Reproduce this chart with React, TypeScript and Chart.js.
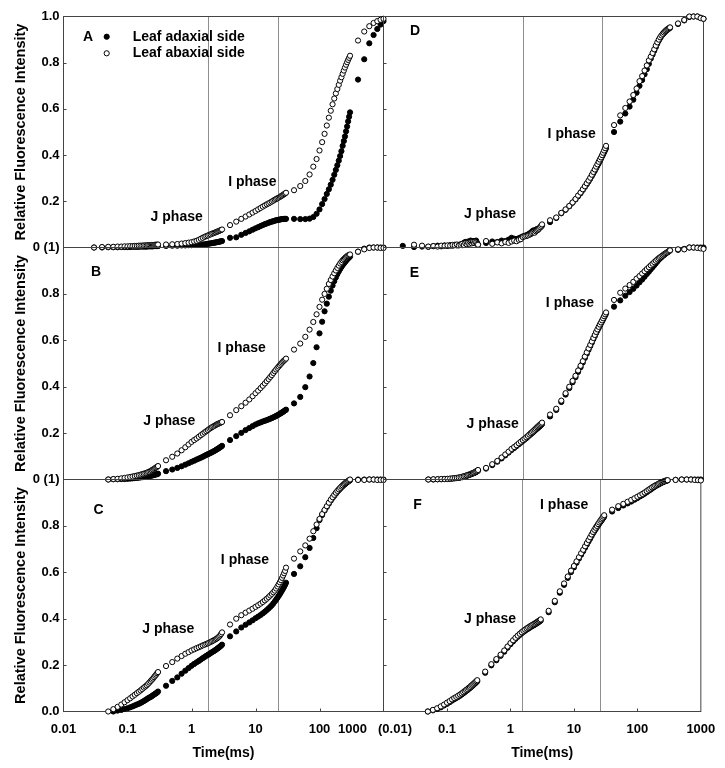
import { useEffect, useRef } from 'react';
import { Chart, registerables } from 'chart.js';

Chart.register(...registerables);

// ---------------- DATA ----------------
// sampling times (ms)
const TIME_MS = [
  0.02, 0.03, 0.04, 0.05, 0.06, 0.07, 0.08, 0.09,
  0.1, 0.11, 0.12, 0.13, 0.14, 0.15, 0.16, 0.17, 0.18, 0.19,
  0.2, 0.21, 0.22, 0.23, 0.24, 0.25, 0.26, 0.27, 0.28, 0.29, 0.3,
  0.4, 0.5, 0.6, 0.7, 0.8, 0.9,
  1.0, 1.1, 1.2, 1.3, 1.4, 1.5, 1.6, 1.7, 1.8, 1.9,
  2.0, 2.1, 2.2, 2.3, 2.4, 2.5, 2.6, 2.7, 2.8, 2.9, 3.0,
  4, 5, 6, 7, 8, 9,
  10, 11, 12, 13, 14, 15, 16, 17, 18, 19,
  20, 21, 22, 23, 24, 25, 26, 27, 28, 29, 30,
  40, 50, 60, 70, 80, 90,
  100, 110, 120, 130, 140, 150, 160, 170, 180, 190,
  200, 210, 220, 230, 240, 250, 260, 270, 280, 290, 300,
  400, 500, 600, 700, 800, 900, 1000,
];

const A_START = 0.03;
const A_ABAXIAL = [
  0.000, 0.002, 0.003, 0.003, 0.004, 0.004, 0.005,
  0.005, 0.006, 0.006, 0.007, 0.007, 0.008, 0.008, 0.008, 0.009, 0.009,
  0.009, 0.010, 0.010, 0.010, 0.011, 0.011, 0.011, 0.012, 0.012, 0.012, 0.013,
  0.013, 0.014, 0.015, 0.017, 0.019, 0.021,
  0.023, 0.026, 0.029, 0.033, 0.038, 0.042, 0.046, 0.049, 0.052, 0.055,
  0.057, 0.060, 0.062, 0.064, 0.066, 0.068, 0.070, 0.072, 0.074, 0.076, 0.078,
  0.097, 0.112, 0.124, 0.134, 0.143, 0.151,
  0.158, 0.165, 0.171, 0.177, 0.182, 0.187, 0.191, 0.195, 0.199, 0.203,
  0.207, 0.210, 0.213, 0.216, 0.219, 0.222, 0.225, 0.228, 0.231, 0.234, 0.237,
  0.248, 0.266, 0.288, 0.316, 0.350, 0.383,
  0.420, 0.456, 0.492, 0.528, 0.562, 0.592, 0.620, 0.645, 0.667, 0.686,
  0.704, 0.722, 0.737, 0.752, 0.766, 0.779, 0.791, 0.802, 0.812, 0.821, 0.830,
  0.896, 0.935, 0.958, 0.972, 0.980, 0.986, 0.990,
];
const A_ADAXIAL = [
  0.000, 0.000, 0.001, 0.001, 0.001, 0.002, 0.002,
  0.002, 0.002, 0.003, 0.003, 0.003, 0.003, 0.004, 0.004, 0.004, 0.004,
  0.004, 0.005, 0.005, 0.005, 0.005, 0.005, 0.006, 0.006, 0.006, 0.006, 0.006,
  0.007, 0.008, 0.008, 0.009, 0.009, 0.010,
  0.010, 0.011, 0.011, 0.012, 0.013, 0.013, 0.014, 0.015, 0.016, 0.017,
  0.018, 0.019, 0.020, 0.021, 0.022, 0.023, 0.024, 0.025, 0.026, 0.027, 0.028,
  0.042, 0.044, 0.055, 0.063, 0.070, 0.077,
  0.083, 0.088, 0.093, 0.097, 0.101, 0.104, 0.107, 0.110, 0.112, 0.114,
  0.116, 0.118, 0.119, 0.120, 0.121, 0.122, 0.123, 0.123, 0.124, 0.124, 0.124,
  0.124, 0.123, 0.123, 0.125, 0.132, 0.146,
  0.165, 0.188, 0.210, 0.232, 0.252, 0.272, 0.293, 0.315, 0.336, 0.356,
  0.376, 0.396, 0.417, 0.440, 0.461, 0.481, 0.503, 0.524, 0.546, 0.566, 0.585,
  0.727, 0.815, 0.884, 0.920, 0.946, 0.965, 0.980,
];

const B_START = 0.05;
const B_ABAXIAL = [
  0.000, 0.002, 0.003, 0.005, 0.007,
  0.009, 0.011, 0.013, 0.015, 0.017, 0.019, 0.021, 0.023, 0.025, 0.027,
  0.029, 0.032, 0.034, 0.037, 0.040, 0.043, 0.046, 0.049, 0.052, 0.055, 0.058,
  0.083, 0.098, 0.112, 0.126, 0.139, 0.151,
  0.162, 0.170, 0.177, 0.184, 0.191, 0.197, 0.203, 0.208, 0.213, 0.218,
  0.222, 0.226, 0.229, 0.232, 0.235, 0.238, 0.240, 0.242, 0.244, 0.246, 0.248,
  0.277, 0.299, 0.316, 0.331, 0.345, 0.359,
  0.372, 0.383, 0.394, 0.404, 0.414, 0.424, 0.433, 0.442, 0.450, 0.459,
  0.467, 0.474, 0.481, 0.487, 0.493, 0.499, 0.504, 0.509, 0.513, 0.517, 0.521,
  0.560, 0.586, 0.615, 0.646, 0.679, 0.712,
  0.744, 0.775, 0.800, 0.822, 0.843, 0.860, 0.875, 0.889, 0.901, 0.912,
  0.922, 0.931, 0.938, 0.945, 0.950, 0.955, 0.959, 0.963, 0.966, 0.968, 0.970,
  0.982, 0.992, 0.998, 1.000, 1.000, 0.998, 0.998,
];
const B_ADAXIAL = [
  0.000, 0.001, 0.001, 0.002, 0.002,
  0.003, 0.004, 0.005, 0.006, 0.007, 0.008, 0.009, 0.010, 0.011, 0.012,
  0.013, 0.014, 0.015, 0.016, 0.017, 0.018, 0.020, 0.021, 0.022, 0.023, 0.025,
  0.036, 0.043, 0.050, 0.057, 0.064, 0.070,
  0.076, 0.081, 0.086, 0.090, 0.094, 0.098, 0.102, 0.106, 0.109, 0.112,
  0.115, 0.118, 0.121, 0.124, 0.127, 0.130, 0.133, 0.136, 0.139, 0.142, 0.145,
  0.170, 0.187, 0.201, 0.213, 0.222, 0.230,
  0.237, 0.242, 0.246, 0.250, 0.253, 0.256, 0.259, 0.262, 0.265, 0.268,
  0.271, 0.274, 0.277, 0.280, 0.283, 0.286, 0.289, 0.292, 0.295, 0.298, 0.301,
  0.328, 0.356, 0.398, 0.444, 0.502, 0.570,
  0.630, 0.680, 0.725, 0.758, 0.788, 0.814, 0.836, 0.855, 0.871, 0.885,
  0.897, 0.907, 0.916, 0.924, 0.931, 0.937, 0.943, 0.948, 0.953, 0.957, 0.961,
  0.982, 0.995, 1.000, 1.000, 1.000, 1.000, 1.000,
];

const C_AB_START = 0.05;
const C_ABAXIAL = [
  0.000, 0.010, 0.020, 0.030, 0.040,
  0.049, 0.057, 0.065, 0.072, 0.079, 0.085, 0.091, 0.097, 0.103, 0.108,
  0.113, 0.119, 0.125, 0.131, 0.137, 0.142, 0.148, 0.154, 0.159, 0.165, 0.170,
  0.196, 0.213, 0.228, 0.239, 0.249, 0.256,
  0.263, 0.268, 0.273, 0.277, 0.281, 0.285, 0.288, 0.291, 0.294, 0.297,
  0.300, 0.303, 0.306, 0.309, 0.312, 0.315, 0.319, 0.323, 0.328, 0.334, 0.341,
  0.375, 0.400, 0.415, 0.426, 0.435, 0.443,
  0.451, 0.458, 0.465, 0.472, 0.479, 0.486, 0.493, 0.500, 0.507, 0.514,
  0.521, 0.530, 0.539, 0.548, 0.557, 0.566, 0.576, 0.586, 0.596, 0.606, 0.620,
  0.659, 0.690, 0.716, 0.745, 0.777, 0.806,
  0.830, 0.851, 0.869, 0.885, 0.900, 0.913, 0.924, 0.934, 0.943, 0.951,
  0.958, 0.964, 0.970, 0.975, 0.980, 0.984, 0.988, 0.991, 0.994, 0.997, 1.000,
  0.998, 0.998, 1.000, 1.000, 0.998, 0.998, 0.998,
];
const C_AD_START = 0.06;
const C_ADAXIAL = [
  0.000, 0.004, 0.007, 0.011,
  0.014, 0.018, 0.022, 0.026, 0.030, 0.033, 0.037, 0.041, 0.045, 0.049,
  0.053, 0.057, 0.060, 0.063, 0.066, 0.070, 0.073, 0.076, 0.079, 0.082, 0.086,
  0.111, 0.132, 0.147, 0.163, 0.176, 0.187,
  0.197, 0.205, 0.212, 0.218, 0.224, 0.230, 0.235, 0.240, 0.244, 0.248,
  0.252, 0.256, 0.259, 0.263, 0.266, 0.270, 0.273, 0.277, 0.280, 0.284, 0.288,
  0.324, 0.345, 0.362, 0.374, 0.384, 0.393,
  0.402, 0.409, 0.416, 0.423, 0.430, 0.437, 0.444, 0.451, 0.458, 0.466,
  0.474, 0.482, 0.490, 0.498, 0.506, 0.514, 0.522, 0.530, 0.538, 0.546, 0.555,
  0.593, 0.626, 0.665, 0.705, 0.748, 0.790,
  0.825, 0.847, 0.866, 0.882, 0.896, 0.909, 0.920, 0.930, 0.939, 0.947,
  0.954, 0.960, 0.966, 0.971, 0.976, 0.980, 0.984, 0.988, 0.991, 0.994, 0.997,
  1.000, 1.000, 1.000, 1.000, 1.000, 1.000, 1.000,
];

const D_AB_START = 0.03;
const D_ABAXIAL = [
  0.012, 0.008, 0.004, 0.006, 0.004, 0.008, 0.007,
  0.009, 0.008, 0.011, 0.010, 0.013, 0.009, 0.012, 0.016, 0.011, 0.018,
  0.014, 0.020, 0.016, 0.022, 0.018, 0.024, 0.019, 0.025, 0.021, 0.015, 0.012,
  0.028, 0.016, 0.022, 0.018, 0.024, 0.020,
  0.026, 0.030, 0.027, 0.033, 0.036, 0.045, 0.048, 0.050, 0.052, 0.055,
  0.058, 0.062, 0.066, 0.064, 0.070, 0.074, 0.078, 0.082, 0.088, 0.094, 0.100,
  0.118, 0.130, 0.150, 0.165, 0.180, 0.195,
  0.210, 0.225, 0.238, 0.252, 0.265, 0.278, 0.290, 0.302, 0.315, 0.327,
  0.338, 0.350, 0.360, 0.371, 0.381, 0.390, 0.400, 0.410, 0.420, 0.430, 0.440,
  0.530, 0.572, 0.604, 0.632, 0.660, 0.688,
  0.720, 0.742, 0.766, 0.788, 0.810, 0.826, 0.842, 0.858, 0.874, 0.888,
  0.900, 0.910, 0.918, 0.925, 0.931, 0.936, 0.940, 0.944, 0.947, 0.950, 0.953,
  0.970, 0.985, 1.000, 1.000, 1.000, 0.993, 0.990,
];
const D_AD_START = 0.02;
const D_ADAXIAL = [
  0.007, 0.002, 0.004, 0.003, 0.006, 0.008, 0.005, 0.009,
  0.007, 0.010, 0.008, 0.012, 0.009, 0.011, 0.014, 0.010, 0.020, 0.024,
  0.018, 0.026, 0.022, 0.030, 0.027, 0.023, 0.028, 0.025, 0.030, 0.020, 0.012,
  0.020, 0.026, 0.024, 0.030, 0.028, 0.034,
  0.042, 0.038, 0.036, 0.040, 0.044, 0.048, 0.050, 0.053, 0.056, 0.060,
  0.064, 0.070, 0.074, 0.072, 0.076, 0.080, 0.077, 0.083, 0.087, 0.090, 0.095,
  0.110, 0.128, 0.148, 0.163, 0.178, 0.194,
  0.208, 0.222, 0.235, 0.249, 0.262, 0.274, 0.286, 0.298, 0.310, 0.321,
  0.332, 0.343, 0.354, 0.364, 0.374, 0.384, 0.394, 0.403, 0.412, 0.421, 0.430,
  0.500, 0.545, 0.580, 0.610, 0.640, 0.670,
  0.700, 0.725, 0.750, 0.772, 0.795, 0.818, 0.835, 0.852, 0.868, 0.883,
  0.896, 0.906, 0.915, 0.922, 0.928, 0.933, 0.938, 0.942, 0.945, 0.948, 0.951,
  0.968, 0.983, 0.998, 1.000, 1.000, 0.995, 0.990,
];

const E_START = 0.05;
const E_ABAXIAL = [
  0.000, 0.001, 0.001, 0.002, 0.002,
  0.003, 0.004, 0.005, 0.006, 0.007, 0.009, 0.010, 0.012, 0.014, 0.016,
  0.018, 0.020, 0.022, 0.024, 0.026, 0.028, 0.030, 0.033, 0.035, 0.038, 0.041,
  0.050, 0.066, 0.080, 0.095, 0.108, 0.120,
  0.132, 0.140, 0.148, 0.156, 0.163, 0.170, 0.176, 0.182, 0.188, 0.194,
  0.200, 0.205, 0.210, 0.215, 0.220, 0.225, 0.229, 0.233, 0.237, 0.241, 0.245,
  0.280, 0.305, 0.340, 0.372, 0.400, 0.425,
  0.447, 0.470, 0.490, 0.510, 0.530, 0.548, 0.565, 0.580, 0.595, 0.610,
  0.623, 0.636, 0.647, 0.658, 0.668, 0.677, 0.686, 0.695, 0.704, 0.712, 0.720,
  0.774, 0.805, 0.823, 0.838, 0.852, 0.866,
  0.877, 0.888, 0.898, 0.907, 0.915, 0.923, 0.930, 0.937, 0.943, 0.949,
  0.954, 0.958, 0.962, 0.966, 0.970, 0.973, 0.976, 0.979, 0.982, 0.985, 0.988,
  0.992, 0.992, 1.000, 1.000, 0.998, 0.996, 0.994,
];
const E_ADAXIAL = [
  0.000, 0.000, 0.001, 0.001, 0.002,
  0.002, 0.003, 0.004, 0.005, 0.006, 0.007, 0.009, 0.010, 0.012, 0.014,
  0.016, 0.018, 0.020, 0.022, 0.024, 0.026, 0.028, 0.030, 0.032, 0.035, 0.038,
  0.047, 0.062, 0.077, 0.091, 0.104, 0.116,
  0.127, 0.136, 0.144, 0.152, 0.159, 0.166, 0.172, 0.178, 0.184, 0.190,
  0.195, 0.200, 0.205, 0.210, 0.215, 0.219, 0.223, 0.227, 0.231, 0.235, 0.239,
  0.272, 0.300, 0.334, 0.366, 0.394, 0.419,
  0.441, 0.464, 0.484, 0.504, 0.524, 0.542, 0.559, 0.575, 0.590, 0.605,
  0.618, 0.631, 0.642, 0.653, 0.663, 0.672, 0.681, 0.690, 0.699, 0.707, 0.715,
  0.745, 0.772, 0.792, 0.808, 0.822, 0.836,
  0.850, 0.862, 0.874, 0.886, 0.896, 0.906, 0.915, 0.924, 0.932, 0.940,
  0.947, 0.953, 0.958, 0.963, 0.967, 0.971, 0.975, 0.978, 0.981, 0.984, 0.987,
  0.990, 0.994, 1.000, 1.000, 1.000, 1.000, 1.000,
];

const F_START = 0.05;
const F_ABAXIAL = [
  0.000, 0.007, 0.014, 0.022, 0.030,
  0.038, 0.045, 0.052, 0.058, 0.063, 0.068, 0.073, 0.078, 0.083, 0.088,
  0.093, 0.097, 0.102, 0.106, 0.111, 0.115, 0.119, 0.123, 0.127, 0.131, 0.135,
  0.172, 0.204, 0.226, 0.245, 0.263, 0.280,
  0.295, 0.307, 0.318, 0.327, 0.335, 0.342, 0.348, 0.353, 0.358, 0.362,
  0.366, 0.370, 0.373, 0.376, 0.379, 0.382, 0.385, 0.388, 0.391, 0.394, 0.397,
  0.434, 0.477, 0.518, 0.552, 0.582, 0.607,
  0.627, 0.647, 0.665, 0.682, 0.697, 0.712, 0.726, 0.739, 0.751, 0.763,
  0.774, 0.783, 0.792, 0.800, 0.808, 0.815, 0.822, 0.828, 0.834, 0.840, 0.846,
  0.870, 0.885, 0.895, 0.904, 0.912, 0.919,
  0.926, 0.932, 0.938, 0.944, 0.950, 0.956, 0.961, 0.966, 0.970, 0.974,
  0.977, 0.980, 0.983, 0.986, 0.988, 0.990, 0.992, 0.994, 0.995, 0.996, 0.997,
  0.998, 1.000, 1.000, 1.000, 0.998, 0.997, 0.996,
];
const F_ADAXIAL = [
  0.000, 0.005, 0.011, 0.018, 0.026,
  0.033, 0.040, 0.047, 0.053, 0.058, 0.063, 0.068, 0.073, 0.078, 0.083,
  0.088, 0.092, 0.097, 0.101, 0.106, 0.110, 0.114, 0.118, 0.122, 0.126, 0.130,
  0.167, 0.199, 0.221, 0.240, 0.258, 0.275,
  0.290, 0.302, 0.313, 0.322, 0.330, 0.337, 0.343, 0.348, 0.353, 0.357,
  0.361, 0.365, 0.368, 0.371, 0.374, 0.377, 0.380, 0.383, 0.386, 0.389, 0.392,
  0.428, 0.471, 0.512, 0.546, 0.576, 0.601,
  0.621, 0.641, 0.659, 0.676, 0.691, 0.706, 0.720, 0.733, 0.745, 0.757,
  0.768, 0.777, 0.786, 0.794, 0.802, 0.809, 0.816, 0.822, 0.828, 0.834, 0.840,
  0.862, 0.877, 0.888, 0.897, 0.905, 0.913,
  0.920, 0.927, 0.933, 0.939, 0.945, 0.951, 0.956, 0.961, 0.966, 0.970,
  0.974, 0.977, 0.980, 0.983, 0.986, 0.988, 0.990, 0.992, 0.994, 0.995, 0.996,
  0.999, 1.000, 1.000, 1.000, 1.000, 1.000, 1.000,
];

const X_TICKS = [0.01, 0.1, 1, 10, 100, 1000];
const LEFT_X_LABELS = ['0.01', '0.1', '1', '10', '100', ''];
const RIGHT_X_LABELS = ['', '0.1', '1', '10', '100', '1000'];
const Y_TICKS = [0, 0.2, 0.4, 0.6, 0.8, 1.0];
const Y_LABELS_TOP = ['0 (1)', '0.2', '0.4', '0.6', '0.8', '1.0'];
const Y_LABELS_MID = ['0 (1)', '0.2', '0.4', '0.6', '0.8', ''];
const Y_LABELS_BOT = ['0.0', '0.2', '0.4', '0.6', '0.8', ''];
const JI_LINES_LEFT = [1.8, 22.5];
const JI_LINES_RIGHT = [1.5, 26];
const PANEL_LETTERS = ['A', 'B', 'C', 'D', 'E', 'F'];
const J_PHASE_AT = [[0.587, 0.133], [0.45, 0.251], [0.434, 0.356], [0.461, 0.143], [0.508, 0.24], [0.478, 0.4]];
const I_PHASE_AT = [[8.91, 0.283], [6.08, 0.568], [6.85, 0.651], [8.73, 0.489], [8.2, 0.762], [7.03, 0.888]];
const LEGEND_LABELS = ['Leaf adaxial side', 'Leaf abaxial side'];

// ---------------- LAYOUT / STYLE ----------------
const W = 725;
const H = 768;
const COL_X = [[63.5, 383.5], [383.5, 703.5]];
const ROW_Y = [[16.5, 247.5], [247.5, 479.5], [479.5, 711.5]];
const LETTER_OFFSET = [[24.5, 20.5], [32.5, 24.2], [35, 30.5], [31.5, 14.2], [31, 25.8], [34, 25.5]];
const TICK_FONT = { family: 'Liberation Sans', weight: 'bold' as const, size: 13 };
const TEXT_FONT = 'bold 14px "Liberation Sans", Arial, sans-serif';
const FRAME_COLOR = '#444444';
const JI_COLOR = '#8e8e8e';
const POINT_R = 2.6;

const warnings: string[] = [];

function toPoints(values: number[], start: number, name: string) {
  const i0 = TIME_MS.indexOf(start);
  if (values.length !== TIME_MS.length - i0) {
    warnings.push(`${name}: ${values.length} vs ${TIME_MS.length - i0}`);
  }
  return values.map((v, k) => ({ x: TIME_MS[i0 + k], y: v }));
}

const PANELS = [
  { col: 0, row: 0, ab: toPoints(A_ABAXIAL, A_START, 'A_ab'), ad: toPoints(A_ADAXIAL, A_START, 'A_ad') },
  { col: 0, row: 1, ab: toPoints(B_ABAXIAL, B_START, 'B_ab'), ad: toPoints(B_ADAXIAL, B_START, 'B_ad') },
  { col: 0, row: 2, ab: toPoints(C_ABAXIAL, C_AB_START, 'C_ab'), ad: toPoints(C_ADAXIAL, C_AD_START, 'C_ad') },
  { col: 1, row: 0, ab: toPoints(D_ABAXIAL, D_AB_START, 'D_ab'), ad: toPoints(D_ADAXIAL, D_AD_START, 'D_ad') },
  { col: 1, row: 1, ab: toPoints(E_ABAXIAL, E_START, 'E_ab'), ad: toPoints(E_ADAXIAL, E_START, 'E_ad') },
  { col: 1, row: 2, ab: toPoints(F_ABAXIAL, F_START, 'F_ab'), ad: toPoints(F_ADAXIAL, F_START, 'F_ad') },
];

function makeConfig(p: any, idx: number): any {
  const isLeft = p.col === 0;
  const isBottom = p.row === 2;
  const [l, r] = COL_X[p.col];
  const [t, b] = ROW_Y[p.row];
  const xAxisH = isBottom ? 53 : 0;
  const yLabels = p.row === 0 ? Y_LABELS_TOP : p.row === 1 ? Y_LABELS_MID : Y_LABELS_BOT;
  const xLabels = isLeft ? LEFT_X_LABELS : RIGHT_X_LABELS;
  const jiLines = isLeft ? JI_LINES_LEFT : JI_LINES_RIGHT;

  const panelPlugin = {
    id: 'panelDecor' + idx,
    beforeDatasetsDraw(chart: any) {
      const { ctx, chartArea: ca, scales } = chart;
      ctx.save();
      // J / I phase guide lines
      ctx.strokeStyle = JI_COLOR;
      ctx.lineWidth = 1;
      jiLines.forEach((tv) => {
        const x = Math.round(scales.x.getPixelForValue(tv)) + 0.5;
        ctx.beginPath();
        ctx.moveTo(x, ca.top);
        ctx.lineTo(x, ca.bottom);
        ctx.stroke();
      });
      // frame
      ctx.strokeStyle = FRAME_COLOR;
      ctx.strokeRect(ca.left, ca.top, ca.right - ca.left, ca.bottom - ca.top);
      // inward y tick marks
      Y_TICKS.forEach((v) => {
        if (v <= 0 || v >= 1) return;
        const y = Math.round(scales.y.getPixelForValue(v)) + 0.5;
        ctx.beginPath();
        ctx.moveTo(ca.left, y);
        ctx.lineTo(ca.left + 3, y);
        ctx.stroke();
      });
      // inward x tick marks on the bottom axis
      if (isBottom) {
        X_TICKS.forEach((v) => {
          const x = Math.round(scales.x.getPixelForValue(v)) + 0.5;
          if (x <= ca.left + 1 || x >= ca.right - 1) return;
          ctx.beginPath();
          ctx.moveTo(x, ca.bottom);
          ctx.lineTo(x, ca.bottom - 3);
          ctx.stroke();
        });
      }
      ctx.restore();
    },
    afterDatasetsDraw(chart: any) {
      const { ctx, chartArea: ca, scales } = chart;
      ctx.save();
      ctx.fillStyle = '#000';
      ctx.font = TEXT_FONT;
      ctx.textBaseline = 'middle';
      ctx.textAlign = 'center';
      // panel letter
      const [ldx, ldy] = LETTER_OFFSET[idx];
      ctx.fillText(PANEL_LETTERS[idx], ca.left + ldx, ca.top + ldy);
      // phase labels
      const [jt, jv] = J_PHASE_AT[idx];
      const [it, iv] = I_PHASE_AT[idx];
      ctx.fillText('J phase', scales.x.getPixelForValue(jt), scales.y.getPixelForValue(jv));
      ctx.fillText('I phase', scales.x.getPixelForValue(it), scales.y.getPixelForValue(iv));
      // legend (panel A only)
      if (idx === 0) {
        const cx = ca.left + 43.2;
        const rows = [ca.top + 20.2, ca.top + 36.8];
        rows.forEach((yy, k) => {
          ctx.beginPath();
          ctx.arc(cx, yy, POINT_R, 0, Math.PI * 2);
          ctx.fillStyle = k === 0 ? '#000' : '#fff';
          ctx.fill();
          ctx.strokeStyle = '#000';
          ctx.lineWidth = 1;
          ctx.stroke();
          ctx.fillStyle = '#000';
          ctx.textAlign = 'left';
          ctx.fillText(LEGEND_LABELS[k], ca.left + 69.2, yy);
        });
      }
      // displaced end labels of the x axis
      if (isBottom) {
        ctx.font = 'bold 13px "Liberation Sans", Arial, sans-serif';
        ctx.textAlign = 'center';
        const ly = ca.bottom + 17.5;
        if (isLeft) ctx.fillText('1000', scales.x.getPixelForValue(1000) - 31, ly);
        else ctx.fillText('(0.01)', scales.x.getPixelForValue(0.01) + 11.5, ly);
      }
      if (idx === 0 && warnings.length) {
        ctx.fillStyle = 'red';
        ctx.textAlign = 'left';
        ctx.font = '12px sans-serif';
        warnings.forEach((w, k) => ctx.fillText(w, 400, 400 + k * 14));
      }
      ctx.restore();
    },
  };

  return {
    type: 'scatter',
    plugins: [panelPlugin],
    data: {
      datasets: [
        {
          label: LEGEND_LABELS[1],
          data: p.ab,
          pointRadius: POINT_R,
          pointBorderWidth: 1,
          pointBackgroundColor: '#ffffff',
          pointBorderColor: '#000000',
          clip: false,
        },
        {
          label: LEGEND_LABELS[0],
          data: p.ad,
          pointRadius: POINT_R,
          pointBorderWidth: 1,
          pointBackgroundColor: '#000000',
          pointBorderColor: '#000000',
          clip: false,
        },
      ],
    },
    options: {
      responsive: false,
      animation: false,
      devicePixelRatio: 1,
      events: [],
      layout: {
        padding: {
          left: isLeft ? 0 : l,
          right: W - r,
          top: t,
          bottom: H - b - xAxisH,
        },
      },
      plugins: { legend: { display: false }, tooltip: { enabled: false } },
      scales: {
        x: {
          type: 'logarithmic',
          min: 0.01,
          max: 1000,
          display: isBottom,
          afterBuildTicks: (s: any) => {
            s.ticks = X_TICKS.map((v) => ({ value: v }));
          },
          afterFit: (s: any) => {
            s.height = xAxisH;
          },
          grid: { display: false, drawTicks: false },
          border: { display: false },
          ticks: {
            autoSkip: false,
            maxRotation: 0,
            padding: 9.7,
            color: '#000',
            font: TICK_FONT,
            callback: (_v: any, i: number) => xLabels[i],
          },
          title: {
            display: true,
            text: 'Time(ms)',
            color: '#000',
            font: { family: 'Liberation Sans', weight: 'bold', size: 14 },
            padding: { top: 0, bottom: 3 },
          },
        },
        y: {
          type: 'linear',
          min: 0,
          max: 1,
          display: isLeft,
          afterBuildTicks: (s: any) => {
            s.ticks = Y_TICKS.map((v) => ({ value: v }));
          },
          afterFit: (s: any) => {
            s.width = isLeft ? l : 0;
          },
          grid: { display: false, drawTicks: false },
          border: { display: false },
          ticks: {
            padding: 4,
            color: '#000',
            font: TICK_FONT,
            callback: (_v: any, i: number) => yLabels[i],
          },
          title: {
            display: true,
            text: 'Relative Fluorescence Intensity',
            color: '#000',
            font: { family: 'Liberation Sans', weight: 'bold', size: 14.5 },
            padding: { top: 11.8, bottom: 0 },
          },
        },
      },
    },
  };
}

export default function App() {
  const refs = useRef<(HTMLCanvasElement | null)[]>([]);
  useEffect(() => {
    const charts = PANELS.map((p, i) => new Chart(refs.current[i] as HTMLCanvasElement, makeConfig(p, i)));
    return () => charts.forEach((c) => c.destroy());
  }, []);
  return (
    <div style={{ position: 'fixed', left: 0, top: 0, width: W, height: H, background: '#ffffff' }}>
      {PANELS.map((_, i) => (
        <canvas
          key={i}
          ref={(el) => {
            refs.current[i] = el;
          }}
          width={W}
          height={H}
          style={{ position: 'absolute', left: 0, top: 0, width: W, height: H }}
        />
      ))}
    </div>
  );
}
